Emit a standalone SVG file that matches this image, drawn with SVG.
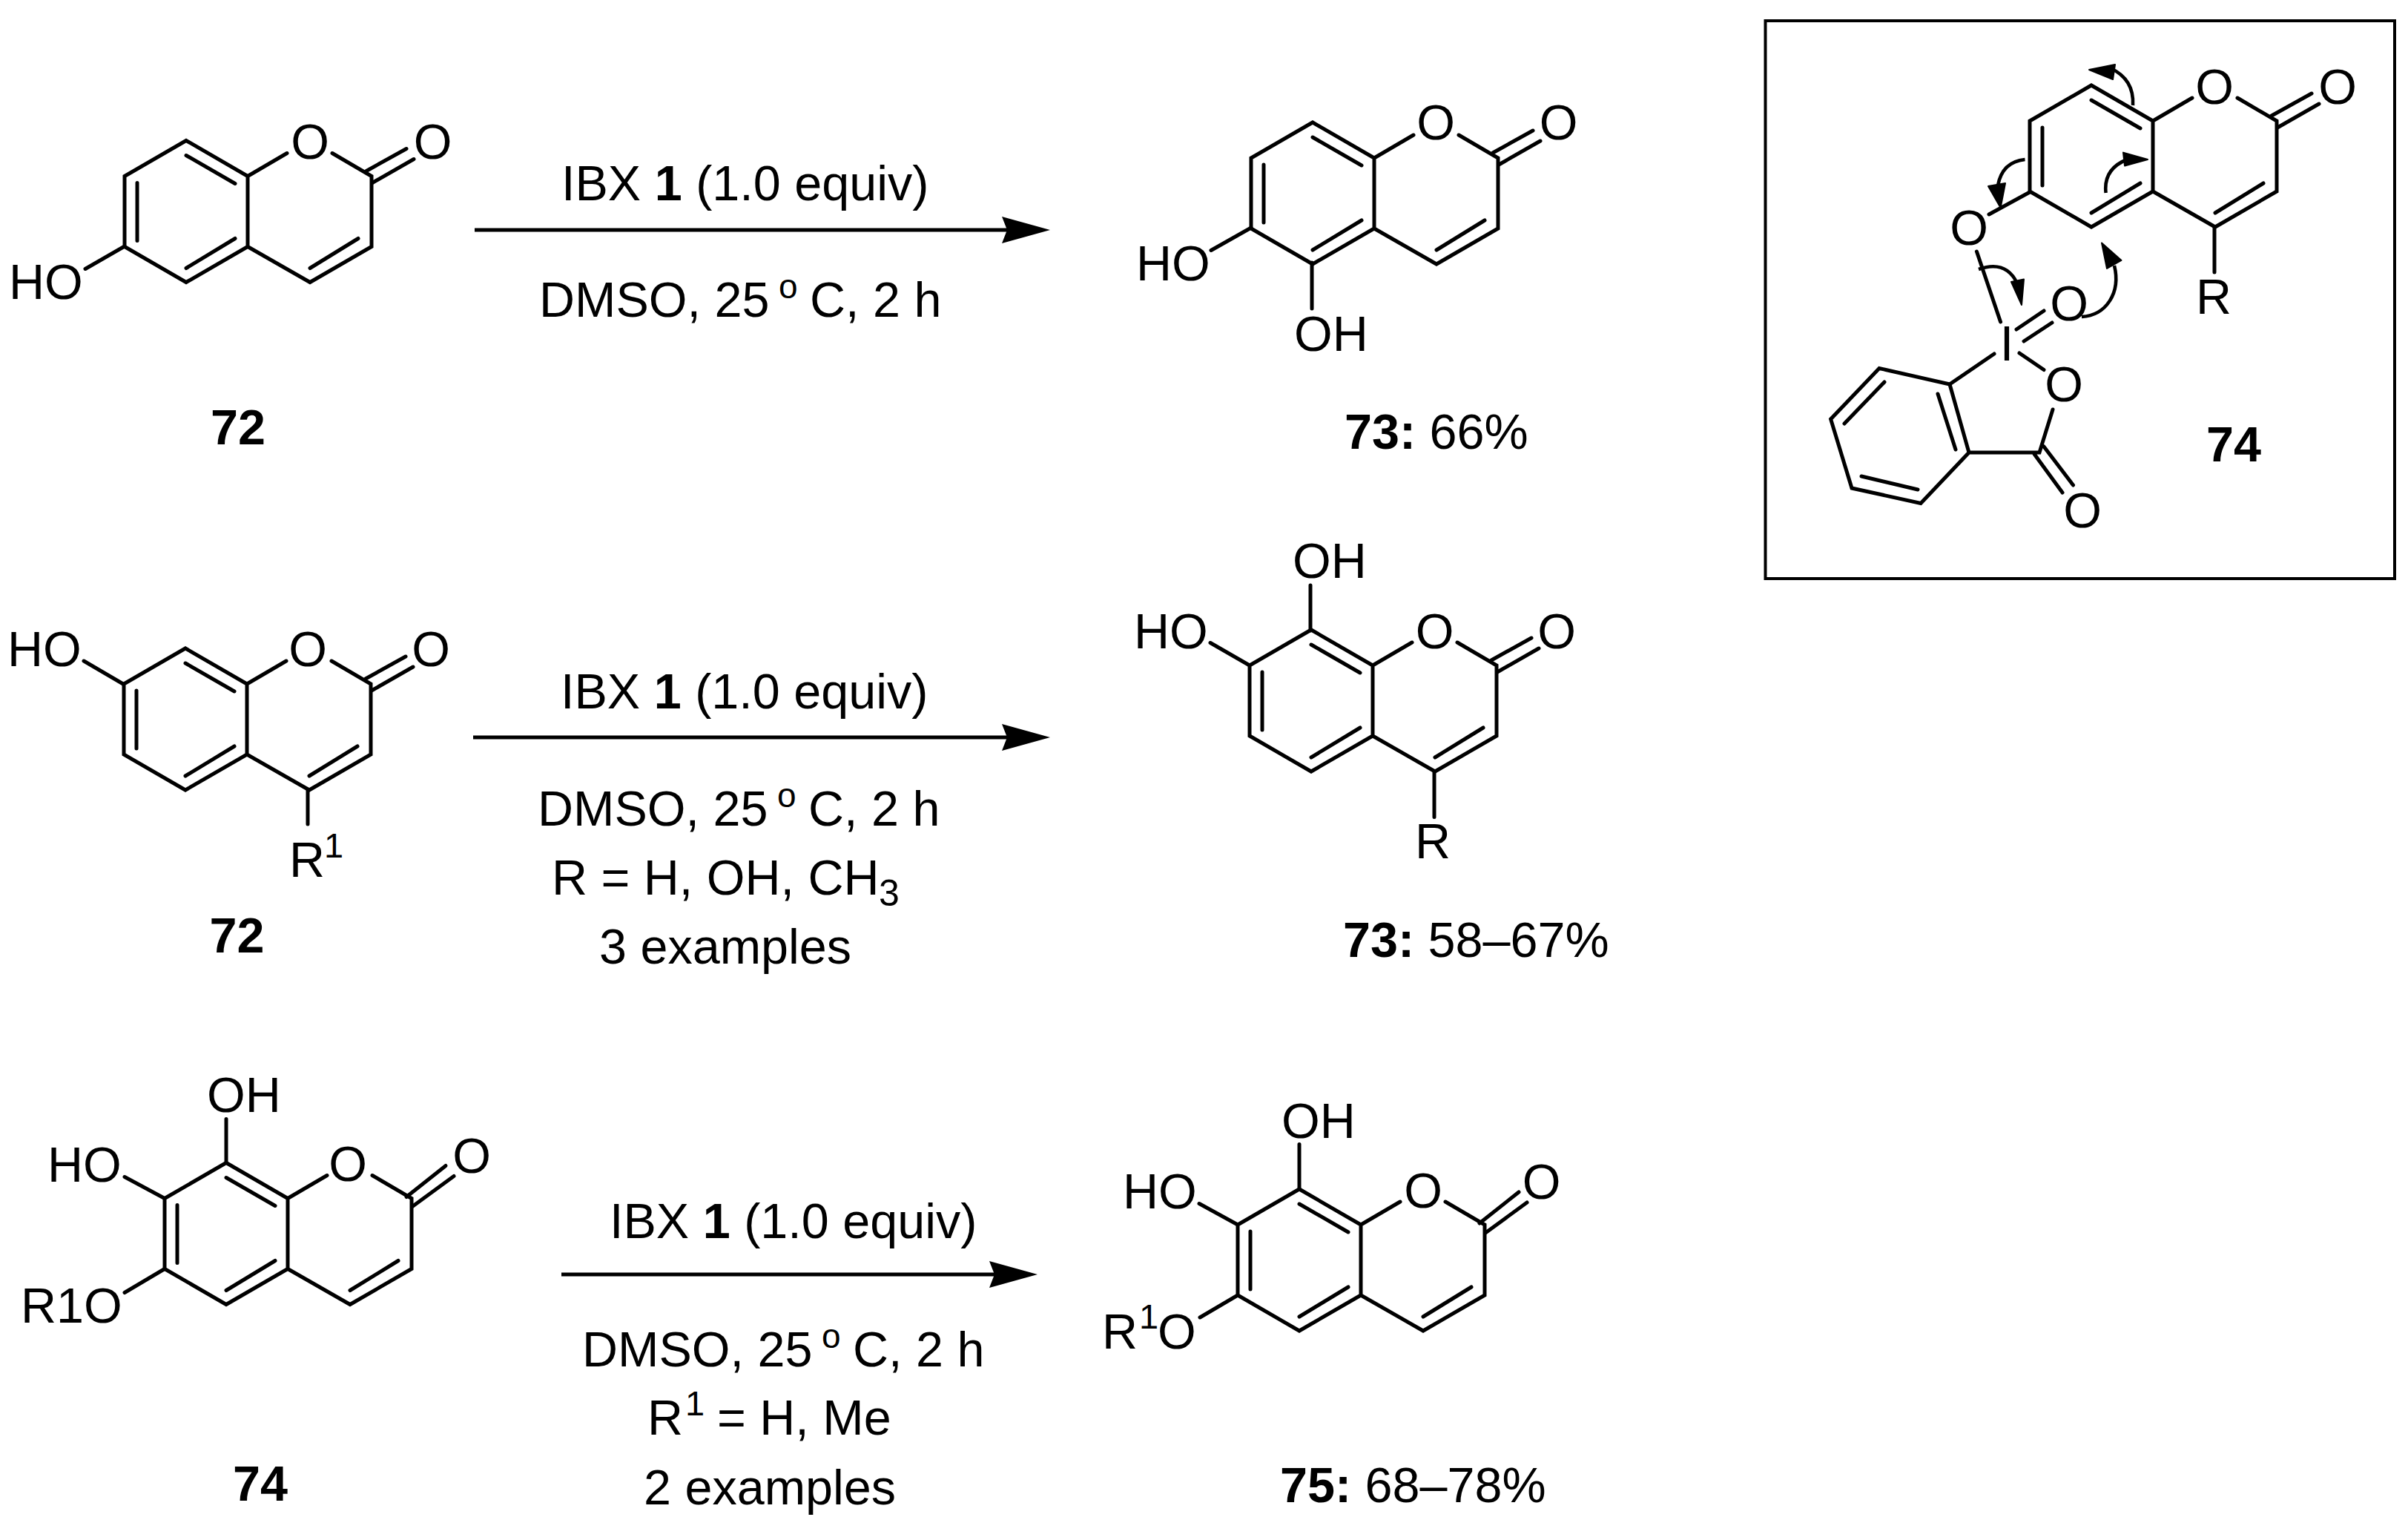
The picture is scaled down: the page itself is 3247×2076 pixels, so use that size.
<svg xmlns="http://www.w3.org/2000/svg" width="3247" height="2076" viewBox="0 0 3247 2076">
<style>
text{font-family:"Liberation Sans",Arial,sans-serif;font-size:66.5px;fill:#000}
.m{text-anchor:middle}
.b{font-weight:700}
.s{font-size:47px}
.deg{font-size:46px}
.sub{font-size:50px}
.bond{fill:none;stroke:#000;stroke-width:5;stroke-linecap:round;stroke-linejoin:miter}
.rxn{fill:none;stroke:#000;stroke-width:5;marker-end:url(#head)}
.curve{fill:none;stroke:#000;stroke-width:4.6}
.tip{fill:#000;stroke:#000;stroke-width:2;stroke-linejoin:round}
.frame{fill:none;stroke:#000;stroke-width:4}
</style>
<defs>
<marker id="head" markerUnits="userSpaceOnUse" markerWidth="70" markerHeight="40" viewBox="0 0 70 40" refX="7" refY="20" orient="auto"><path d="M0,2 L65,20 L0,38 L7,20Z" fill="#000"/></marker>
<path id="skeleton" class="bond" d="M0,0 L0,95 L-83,143 L-166,95 L-166,0 L-83,-48 Z M0,0 L53,-31 M114,-31 L167,0 L167,95 L84,143 L0,95 M-149,9 L-149,87 M-83,-28 L-17,10 M-83,124 L-17,84 M84,124 L149,84"/>
<path id="coA" class="bond" d="M160,-7 L214,-37 M168,9 L224,-23"/>
<path id="coB" class="bond" d="M160,-2 L213,-44 M168,11 L224,-30"/>
</defs>
<rect width="3247" height="2076" fill="#fff"/>

<g id="mol-72-a">
<use href="#skeleton" x="334" y="237.5"/><use href="#coA" x="334" y="237.5"/>
<path class="bond" d="M168,332 L115,362.5"/>
<text x="12" y="403">HO</text><text class="m" x="418" y="214">O</text><text class="m" x="583.5" y="214">O</text>
<text class="m b" x="321" y="599">72</text>
</g>
<g id="mol-73-a">
<use href="#skeleton" x="1853" y="213"/><use href="#coA" x="1853" y="213"/>
<path class="bond" d="M1687,307 L1633,337.5 M1769,354 L1769,416"/>
<text x="1532" y="378">HO</text><text x="1745" y="472.5">OH</text><text class="m" x="1936" y="188">O</text><text class="m" x="2101.5" y="188">O</text>
<text x="1813" y="605"><tspan class="b">73:</tspan> 66%</text>
</g>
<g id="mol-72-b">
<use href="#skeleton" x="333" y="922"/><use href="#coA" x="333" y="922"/>
<path class="bond" d="M166,922 L113,891 M415,1064 L415,1111"/>
<text x="10" y="898">HO</text><text class="m" x="415" y="898">O</text><text class="m" x="581" y="898">O</text>
<text x="390" y="1182">R</text><text class="s" x="437" y="1156">1</text>
<text class="m b" x="319.5" y="1283.5">72</text>
</g>
<g id="mol-73-b">
<use href="#skeleton" x="1851" y="897"/><use href="#coA" x="1851" y="897"/>
<path class="bond" d="M1767,850 L1767,789 M1685,897 L1632,866.5 M1934,1040 L1934,1101.5"/>
<text x="1743" y="779">OH</text><text x="1529" y="874">HO</text><text class="m" x="1934.7" y="874">O</text><text class="m" x="2099" y="874">O</text>
<text x="1908" y="1157">R</text>
<text x="1811" y="1290"><tspan class="b">73:</tspan> 58–67%</text>
</g>
<g id="mol-74">
<use href="#skeleton" x="388" y="1615.5"/><use href="#coB" x="388" y="1615.5"/>
<path class="bond" d="M305,1567.5 L305,1508.5 M222,1615.5 L168,1586.5 M222,1710.5 L168,1742.5"/>
<text x="279" y="1499">OH</text><text x="64" y="1593">HO</text><text x="28" y="1783">R1O</text><text class="m" x="469" y="1592">O</text><text class="m" x="636" y="1581">O</text>
<text class="m b" x="351" y="2023">74</text>
</g>
<g id="mol-75">
<use href="#skeleton" x="1835" y="1651"/><use href="#coB" x="1835" y="1651"/>
<path class="bond" d="M1752,1603 L1752,1542.5 M1669,1651 L1617,1622.5 M1669,1746 L1618,1776"/>
<text x="1728" y="1534">OH</text><text x="1514" y="1628.6">HO</text><text x="1486" y="1818">R</text><text class="s" x="1536" y="1791">1</text><text x="1561" y="1818">O</text><text class="m" x="1919" y="1628">O</text><text class="m" x="2078.6" y="1616">O</text>
<text x="1726" y="2025"><tspan class="b">75:</tspan> 68–78%</text>
</g>

<g id="inset-74">
<rect class="frame" x="2380.5" y="28" width="848.5" height="752"/>
<use href="#skeleton" x="2903" y="163"/><use href="#coA" x="2903" y="163"/>
<path class="bond" d="M2737,259 L2682,289 M2986,306 L2986,367 M2665.4,339 L2697.6,434 M2719,444 L2756,419 M2729,460 L2767,435 M2723,476 L2756,498.5 M2689,477 L2629,518 L2655,610 L2590,678.5 L2497,658 L2468.6,565 L2534,496.5 L2629,518 M2613,531 L2637,606 M2510,642 L2586,660 M2487,571 L2541,515 M2655,610 L2750,610 L2768,552 M2756,602 L2795.5,654 M2743,612 L2781,664"/>
<text class="m" x="2986" y="140">O</text><text class="m" x="3152" y="140">O</text><text class="m" x="2655" y="330">O</text>
<text class="m" x="2790" y="432">O</text><text class="m" x="2783" y="541">O</text><text class="m" x="2808" y="711">O</text>
<text x="2961" y="423">R</text><text class="m" x="2706" y="486">I</text>
<text class="m b" x="3012" y="622">74</text>
</g>

<g id="conditions-1">
<text x="757" y="270">IBX <tspan class="b">1</tspan> (1.0 equiv)</text>
<text x="727" y="427">DMSO, 25</text><text class="deg" x="1050" y="402">o</text><text x="1092" y="427">C, 2 h</text>
</g>
<g id="conditions-2">
<text x="756" y="955">IBX <tspan class="b">1</tspan> (1.0 equiv)</text>
<text x="725" y="1113">DMSO, 25</text><text class="deg" x="1048" y="1088">o</text><text x="1090" y="1113">C, 2 h</text>
<text x="744" y="1206">R = H, OH, CH</text><text class="sub" x="1185" y="1221">3</text>
<text x="808" y="1299">3 examples</text>
</g>
<g id="conditions-3">
<text x="822" y="1669">IBX <tspan class="b">1</tspan> (1.0 equiv)</text>
<text x="785" y="1842">DMSO, 25</text><text class="deg" x="1108" y="1817">o</text><text x="1150" y="1842">C, 2 h</text>
<text x="873" y="1934">R</text><text class="s" x="924" y="1908">1</text><text x="967" y="1934">= H, Me</text>
<text x="868" y="2028">2 examples</text>
</g>

<g id="connectors">
<path class="rxn" d="M640,310 L1358,310"/>
<path class="rxn" d="M638,994 L1358,994"/>
<path class="rxn" d="M757,1718 L1341,1718"/>
<path class="curve" d="M2876,142 Q2878,107 2846,92"/><path class="tip" d="M2817,94 L2852,87 L2849,107Z"/>
<path class="curve" d="M2730.5,215 Q2700,218 2694,250"/><path class="tip" d="M2697.6,280 L2681,251 L2704,247Z"/>
<path class="curve" d="M2839.6,260 Q2836,228 2868,215"/><path class="tip" d="M2896,215 L2863,205.6 L2865,223.5Z"/>
<path class="curve" d="M2668,363 Q2705,350 2720,382"/><path class="tip" d="M2726,411 L2712,380 L2729,376.5Z"/>
<path class="curve" d="M2807,427 C2840,425 2860,395 2851,358"/><path class="tip" d="M2834,327.5 L2841,362 L2860.5,351Z"/>
</g>
</svg>
